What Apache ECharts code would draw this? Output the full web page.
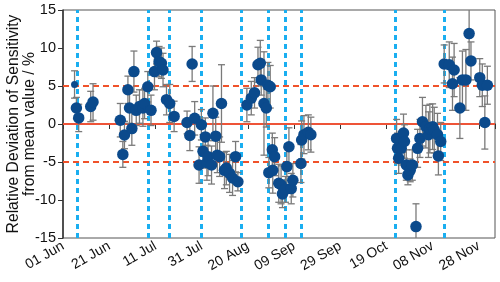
<!DOCTYPE html>
<html>
<head>
<meta charset="utf-8">
<script src="https://cdn.jsdelivr.net/npm/echarts@6/dist/echarts.min.js"></script>
<style>html,body{margin:0;padding:0;background:#fff}#c{width:500px;height:282px}</style>
</head>
<body>
<div id="c"></div>
<script>
// days since 01 Jun
var days = [5.0,5.8,6.8,12.0,13.0,
  24.8,25.9,26.6,28.1,28.8,29.8,30.7,31.7,33.1,34.6,35.3,36.7,38.1,39.6,40.5,41.6,42.6,43.3,44.8,46.2,48.1,
  53.7,54.9,55.9,57.0,58.9,59.9,60.6,61.6,62.3,62.8,64.3,64.9,66.1,66.8,67.8,68.6,69.9,70.7,72.1,73.4,74.7,75.7,
  79.6,81.5,82.9,84.4,85.4,85.8,87.0,88.0,88.7,89.1,89.7,90.6,90.8,91.6,93.4,94.4,95.0,96.3,96.9,97.8,98.8,99.5,103.0,103.3,104.3,106.2,107.3,
  144.4,144.8,145.3,146.4,147.4,147.8,148.6,149.3,150.3,151.2,152.8,153.5,154.5,155.6,157.1,158.2,158.8,160.0,160.7,162.1,162.5,163.5,
  165.0,167.2,168.6,169.3,171.8,172.9,174.4,175.8,176.6,180.4,181.5,182.6,183.7];
var values = [5.2,2.1,0.8,2.3,2.9,
  0.5,-4.0,-1.45,4.5,2.1,-0.6,6.9,1.8,2.3,2.1,2.7,4.9,1.8,6.9,9.4,8.2,8.0,7.1,3.2,2.7,1.0,
  0.2,-1.5,7.9,0.75,-5.4,-0.1,-3.6,-1.7,-5.1,-4.3,-5.4,1.4,-1.6,-4.1,-4.3,2.7,-6.1,-5.8,-6.5,-7.1,-4.3,-7.6,
  2.5,3.4,4.1,7.8,8.0,5.8,2.7,2.1,5.1,-6.4,4.9,-3.4,-6.1,-4.3,-7.8,-8.0,-9.2,-8.6,-5.6,-3.0,-8.5,-7.4,-5.2,-2.1,-1.4,-1.1,-1.4,
  -1.9,-3.2,-4.5,-3.2,-1.2,-2.3,-5.4,-6.7,-6.1,-5.4,-13.5,-3.2,-1.9,0.3,-0.35,-1.4,-0.6,-0.35,-0.8,-1.4,-4.2,-2.3,
  7.9,7.8,5.3,7.1,2.1,5.8,5.8,11.9,8.3,6.1,5.1,0.2,5.1];
var errors = [1.8,1.4,1.8,2.0,2.4,
  2.2,1.7,1.8,1.8,2.0,2.2,2.7,2.0,2.2,2.4,2.0,2.0,2.0,2.4,1.5,2.0,2.0,2.2,2.0,2.5,2.0,
  1.5,2.0,2.3,2.2,2.4,2.0,2.2,2.5,2.3,2.5,2.5,3.6,2.5,2.3,2.6,5.1,2.4,2.2,2.5,2.3,2.0,1.2,
  2.2,2.2,2.0,2.3,3.0,2.0,6.8,2.5,3.0,2.0,2.8,2.2,3.0,2.5,2.5,2.5,1.8,1.7,2.5,2.5,2.0,2.2,2.5,2.5,2.5,2.3,2.3,
  2.5,2.0,2.0,2.2,2.5,2.2,2.0,1.3,1.5,2.0,3.0,2.5,2.5,3.2,2.8,3.0,3.2,3.0,3.0,2.8,2.5,2.5,
  2.5,3.0,3.5,3.5,4.0,3.8,4.0,3.5,2.5,2.5,2.8,3.5,2.5];
var campaignLines = [6,37,46,60,77,89,96,103,144,165];
var refLines = [5,-5];
var xTickLabels = ['01 Jun','21 Jun','11 Jul','31 Jul','20 Aug','09 Sep','29 Sep','19 Oct','08 Nov','28 Nov'];
var yTicks = [-15,-10,-5,0,5,10,15];

var pts = days.map(function(d,i){return i===0?{value:[d,values[i]],symbolSize:7}:[d, values[i]];});
var errData = days.map(function(d,i){return [d, values[i]-errors[i], values[i]+errors[i]];});

var chart = echarts.init(document.getElementById('c'), null, {renderer:'canvas'});
var font = 'Liberation Sans, Arial, sans-serif';
chart.setOption({
  animation:false,
  grid:{left:63,right:5,top:10,bottom:44,show:true,borderColor:'#555',borderWidth:1,outerBoundsMode:'none',containLabel:false},
  xAxis:{type:'value',min:0,max:187,interval:20,
    axisLine:{lineStyle:{color:'#333',width:1.5}},
    axisTick:{show:true,length:5,inside:false,lineStyle:{color:'#333'}},
    splitLine:{show:false},
    axisLabel:{rotate:30,fontSize:14,color:'#111',fontFamily:font,margin:7,
      formatter:function(v){var k=Math.round(v/20);return (Math.abs(v-k*20)<0.01 && xTickLabels[k])?xTickLabels[k]:'';}}
  },
  yAxis:{type:'value',min:yTicks[0],max:yTicks[yTicks.length-1],interval:5,
    name:'Relative Deviation of Sensitivity\nfrom mean value / %',nameLocation:'middle',nameGap:25,nameMoveOverlap:false,
    nameTextStyle:{fontSize:15.7,color:'#111',fontFamily:font,lineHeight:16},
    axisLine:{show:true,lineStyle:{color:'#333',width:1.5}},
    axisTick:{show:true,length:5,lineStyle:{color:'#333'}},
    splitLine:{show:false},
    axisLabel:{fontSize:14.5,color:'#111',fontFamily:font,margin:7}
  },
  series:[
    {type:'line',data:[],z:1,silent:true,
      markLine:{z:1,symbol:'none',silent:true,label:{show:false},animation:false,
        data:campaignLines.map(function(d){return {xAxis:d,lineStyle:{color:'#1aaef0',width:3,type:[5,4]}};})
          .concat(refLines.map(function(v){return {yAxis:v,lineStyle:{color:'#f0522a',width:2,type:[6,4]}};}))
          .concat([{yAxis:0,lineStyle:{color:'#ee5438',width:2,type:'solid'}}])
      }},
    {type:'custom',z:3,data:errData,clip:true,
      renderItem:function(params,api){
        var x=api.value(0),lo=api.value(1),hi=api.value(2);
        var a=api.coord([x,hi]),b=api.coord([x,lo]);var h=3.5;
        var st={stroke:'#7a7a7a',lineWidth:1.3};
        return {type:'group',children:[
          {type:'line',shape:{x1:a[0],y1:a[1],x2:b[0],y2:b[1]},style:st},
          {type:'line',shape:{x1:a[0]-h,y1:a[1],x2:a[0]+h,y2:a[1]},style:st},
          {type:'line',shape:{x1:b[0]-h,y1:b[1],x2:b[0]+h,y2:b[1]},style:st}
        ]};
      }},
    {type:'scatter',z:4,data:pts,symbolSize:11.5,itemStyle:{color:'#0b4a8c',opacity:1}}
  ]
});
</script>
</body>
</html>
